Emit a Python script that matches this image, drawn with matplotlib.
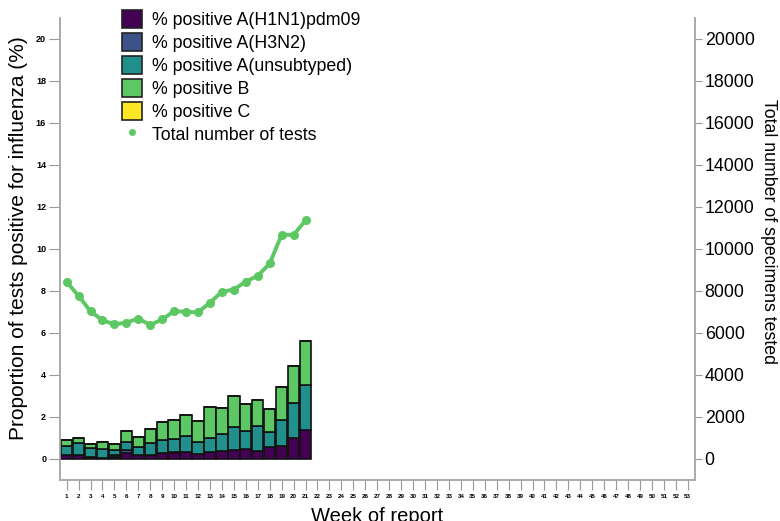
import matplotlib.pyplot as plt
import numpy as np
from matplotlib.patches import Patch
from matplotlib.lines import Line2D

plt.rcParams['font.family'] = ['Liberation Sans', 'DejaVu Sans']

weeks = np.arange(1, 22)
h1n1 = [0.16, 0.18, 0.08, 0.06, 0.08, 0.29, 0.16, 0.16, 0.26, 0.29, 0.32, 0.21, 0.32, 0.37, 0.40, 0.48, 0.37, 0.58, 0.60, 0.98, 1.35]
h3n2 = [0.0, 0.0, 0.0, 0.0, 0.08, 0.12, 0.0, 0.0, 0.0, 0.03, 0.0, 0.0, 0.0, 0.0, 0.0, 0.0, 0.0, 0.0, 0.0, 0.0, 0.0]
a_unsub = [0.44, 0.56, 0.45, 0.42, 0.27, 0.39, 0.40, 0.61, 0.62, 0.64, 0.77, 0.59, 0.68, 0.80, 1.12, 0.85, 1.20, 0.70, 1.24, 1.66, 2.17]
b = [0.28, 0.26, 0.16, 0.34, 0.29, 0.51, 0.50, 0.64, 0.85, 0.88, 0.99, 1.01, 1.45, 1.23, 1.46, 1.27, 1.25, 1.09, 1.60, 1.76, 2.08]
c = [0.0] * 21
total_tests = [8420, 7760, 7020, 6600, 6400, 6490, 6680, 6370, 6640, 7030, 7000, 6970, 7440, 7950, 8060, 8440, 8710, 9300, 10670, 10660, 11350]
week_labels = [str(w) for w in range(1, 54)]

colors = ['#440154', '#3b528b', '#21908c', '#5dc863', '#fde725']
names = ['% positive A(H1N1)pdm09', '% positive A(H3N2)', '% positive A(unsubtyped)',
         '% positive B', '% positive C']

fig = plt.figure(figsize=(7.8, 5.21), dpi=100)
ax = fig.add_axes([0.077, 0.079, 0.814, 0.887])
ax2 = ax.twinx()

bottom = np.zeros(len(weeks))
for vals, col in zip([h1n1, h3n2, a_unsub, b, c], colors):
    ax.bar(weeks, vals, width=0.95, bottom=bottom, color=col, edgecolor='#111111', linewidth=1.2, zorder=2)
    bottom += np.array(vals)

ax2.plot(weeks, total_tests, color='#5dc863', lw=2.8, marker='o', ms=5.5, zorder=3)

ax.set_xlim(0.45, 53.6)
ax.set_ylim(-1, 21)
ax2.set_ylim(-1000, 21000)
ax.set_zorder(ax2.get_zorder() + 1)
ax.patch.set_visible(False)

ax.set_xticks(range(1, 54))
ax.set_xticklabels(week_labels, fontsize=4.5, fontweight='bold')
ax.set_yticks(range(0, 21, 2))
ax.tick_params(axis='y', labelsize=6.5, length=8, color='#999999', pad=2)
for t in ax.get_yticklabels():
    t.set_fontweight('bold')
ax.tick_params(axis='x', length=7, color='#999999', pad=3)
ax2.set_yticks(range(0, 20001, 2000))
ax2.tick_params(axis='y', labelsize=12.8, length=5, color='#999999', pad=2)

for a in (ax, ax2):
    a.spines['top'].set_visible(False)
    for s in ('left', 'right', 'bottom'):
        a.spines[s].set_color('#aaaaaa')
        a.spines[s].set_linewidth(1.2)

ax.set_ylabel('Proportion of tests positive for influenza (%)', fontsize=15)
ax.yaxis.set_label_coords(-0.050, 0.524)
ax2.set_ylabel('Total number of specimens tested', fontsize=12.8, rotation=-90, va='center')
ax2.yaxis.set_label_coords(1.116, 0.537)
ax.set_xlabel('Week of report', fontsize=14.5, labelpad=6)

handles = [Patch(facecolor=col, edgecolor='#222222', linewidth=1.2) for col in colors]
handles.append(Line2D([], [], color='#5dc863', marker='o', ls='', ms=4))
leg = ax.legend(handles, names + ['Total number of tests'], loc='upper left',
                bbox_to_anchor=(0.0976, 1.016), frameon=False, fontsize=12.8,
                borderpad=0, borderaxespad=0,
                handlelength=1.15, handleheight=1.15, handletextpad=0.55, labelspacing=0.23)

fig.savefig('out.png', dpi=100)
